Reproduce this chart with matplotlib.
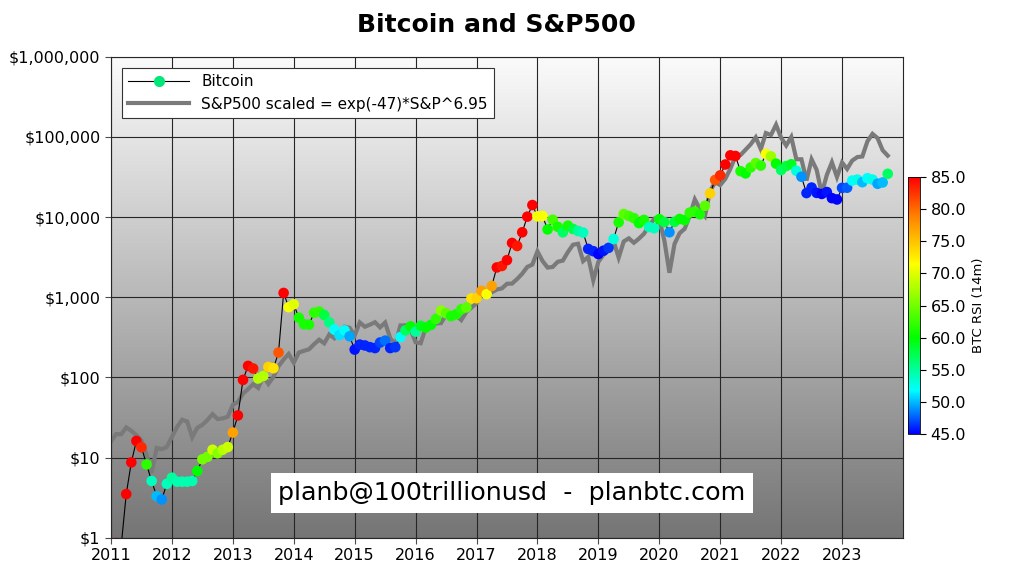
import numpy as np
import matplotlib
matplotlib.use("Agg")
import matplotlib.pyplot as plt
from matplotlib.colors import LinearSegmentedColormap, Normalize
from matplotlib.ticker import FixedLocator, FuncFormatter, NullLocator
from matplotlib.lines import Line2D

plt.rcParams["font.family"] = ["DejaVu Sans"]

start_year = 2011  # first monthly sample = Jan 2011

btc_price = [
    0.52, 0.86, 0.78, 3.5, 8.7, 16.1, 13.4, 8.2, 5.1, 3.3, 3.0, 4.7,            # 2011
    5.6, 5.0, 5.0, 5.0, 5.1, 6.8, 9.5, 10.2, 12.5, 11.3, 12.5, 13.5,            # 2012
    20.5, 33.5, 93, 139, 129, 97, 104, 135, 130, 204, 1130, 750,                # 2013
    815, 555, 460, 455, 640, 660, 600, 485, 395, 337, 385, 325,                 # 2014
    222, 256, 250, 238, 232, 272, 287, 232, 238, 318, 385, 432,                 # 2015
    372, 438, 418, 450, 535, 680, 630, 580, 612, 705, 745, 965,                 # 2016
    970, 1200, 1090, 1380, 2350, 2450, 2900, 4750, 4350, 6450, 10100, 14100,    # 2017
    10200, 10300, 7000, 9250, 7550, 6450, 7800, 7100, 6700, 6400, 4000, 3750,   # 2018
    3450, 3800, 4120, 5320, 8600, 10900, 10300, 9700, 8400, 9200, 7500, 7250,   # 2019
    9400, 8650, 6450, 8700, 9450, 9150, 11350, 11700, 10800, 13800, 19700, 29000,   # 2020
    33100, 45200, 58800, 57700, 37300, 35000, 41500, 47100, 43800, 61300, 57000, 46300,  # 2021
    38500, 43200, 45500, 37700, 31800, 19900, 23300, 20000, 19400, 20500, 17200, 16550,  # 2022
    23100, 23200, 28500, 29300, 27200, 30500, 29300, 26000, 27000, 34600,      # 2023
]

btc_rsi = [
    85, 85, 85, 85, 85, 85, 83, 62, 54, 50, 49, 54,
    55, 54.5, 54.5, 54.5, 54.5, 60, 65, 65, 69, 66, 68, 69,
    77, 85, 85, 85, 84, 68, 68, 74, 73, 81, 85, 71,
    70, 61, 61, 61, 62, 62, 58, 56, 52, 51, 52, 49.5,
    45.5, 46, 46, 46, 46, 47, 48, 46, 46.5, 52, 57, 60,
    55, 59, 60, 60, 62, 66, 64, 61, 61, 62, 64, 73,
    74, 77, 71, 77, 85, 84, 85, 85, 84, 85, 85, 85,
    71, 71, 60, 63, 61, 57, 61, 58, 55, 54, 46, 46,
    45, 45.5, 46.5, 53, 61, 64, 63, 62, 60, 61, 54, 54,
    60, 58, 49, 58, 60, 60, 62, 62, 61, 64, 74, 81,
    83, 85, 85, 85, 61, 60, 62, 64, 62, 71, 67, 60,
    57, 58, 59, 53, 49, 46, 46, 45.5, 45, 45.5, 45, 45,
    47, 47.5, 52, 52.5, 50, 52, 52.5, 49.5, 50, 57,
]

sp500 = [
    1286, 1327, 1326, 1364, 1345, 1321, 1292, 1219, 1131, 1253, 1247, 1258,
    1312, 1366, 1408, 1398, 1310, 1362, 1379, 1407, 1441, 1412, 1416, 1426,
    1498, 1515, 1569, 1598, 1631, 1606, 1686, 1633, 1682, 1757, 1806, 1848,
    1783, 1859, 1872, 1884, 1924, 1960, 1931, 2003, 1972, 2018, 2068, 2059,
    1995, 2105, 2068, 2086, 2107, 2063, 2104, 1972, 1920, 2079, 2080, 2044,
    1940, 1932, 2060, 2065, 2097, 2099, 2174, 2171, 2168, 2126, 2199, 2239,
    2279, 2364, 2363, 2384, 2412, 2423, 2470, 2472, 2519, 2575, 2648, 2674,
    2824, 2714, 2641, 2648, 2705, 2718, 2816, 2902, 2914, 2712, 2760, 2507,
    2704, 2784, 2834, 2946, 2752, 2942, 2980, 2926, 2977, 3038, 3141, 3231,
    3226, 2954, 2585, 2912, 3044, 3100, 3271, 3500, 3363, 3270, 3622, 3756,
    3714, 3811, 3973, 4181, 4204, 4298, 4395, 4523, 4308, 4605, 4567, 4766,
    4516, 4374, 4530, 4132, 4132, 3785, 4130, 3955, 3586, 3872, 4080, 3840,
    4077, 3970, 4109, 4169, 4180, 4450, 4589, 4508, 4288, 4194,
]

year_ticks = list(range(2011, 2024))
price_ticks = [1, 10, 100, 1000, 10000, 100000, 1000000]
rsi_ticks = [45, 50, 55, 60, 65, 70, 75, 80, 85]

t = start_year + np.arange(len(btc_price)) / 12.0
sp_scaled = np.exp(-47) * np.asarray(sp500, dtype=float) ** 6.95

rsi_cmap = LinearSegmentedColormap.from_list(
    "rsi", [(0.0, "#0000ff"), (0.17, "#00ffff"), (0.375, "#00ff00"),
            (0.66, "#ffff00"), (0.85, "#ff8000"), (1.0, "#ff0000")])
norm = Normalize(vmin=45, vmax=85)

fig = plt.figure(figsize=(10.24, 5.76), dpi=100)
rect = [0.1084, 0.0665, 0.7734, 0.8351]

# gradient background
bg = fig.add_axes(rect, zorder=0)
grad = LinearSegmentedColormap.from_list("bg", ["#757575", "#fbfbfb"])
bg.imshow(np.linspace(0, 1, 256).reshape(-1, 1), cmap=grad, aspect="auto",
          extent=[0, 1, 0, 1], origin="lower")
bg.set_axis_off()

ax = fig.add_axes(rect, zorder=1)
ax.set_facecolor("none")
ax.set_yscale("log")

ax.plot(t, sp_scaled, color="#7a7a7a", lw=3.0, zorder=2, solid_joinstyle="miter")
ax.plot(t, btc_price, color="black", lw=0.8, zorder=3)
sc = ax.scatter(t, btc_price, c=btc_rsi, cmap=rsi_cmap, norm=norm, s=58,
                edgecolors="none", zorder=4)

ax.set_xlim(2011, 2024)
ax.set_ylim(1, 1e6)
ax.xaxis.set_major_locator(FixedLocator(year_ticks))
ax.xaxis.set_minor_locator(NullLocator())
ax.yaxis.set_major_locator(FixedLocator(price_ticks))
ax.yaxis.set_minor_locator(NullLocator())
ax.yaxis.set_major_formatter(FuncFormatter(lambda v, p: "${:,.0f}".format(v)))
ax.set_xticklabels([str(y) for y in year_ticks])
ax.tick_params(labelsize=11.5, length=4, color="0.3")
ax.grid(True, color="0.15", lw=0.8, zorder=1)
ax.set_axisbelow(True)
for s in ax.spines.values():
    s.set_color("0.15")
    s.set_linewidth(0.8)

handles = [
    Line2D([0], [0], color="black", lw=0.8, marker="o", markersize=8,
           markerfacecolor="#00e878", markeredgecolor="none"),
    Line2D([0], [0], color="#7a7a7a", lw=3.0),
]
leg = ax.legend(handles, ["Bitcoin", "S&P500 scaled = exp(-47)*S&P^6.95"],
                loc="upper left", bbox_to_anchor=(0.0139, 0.9765),
                borderaxespad=0, fontsize=11, handlelength=4.0,
                fancybox=False, framealpha=1, edgecolor="0.2")
leg.get_frame().set_linewidth(0.8)

fig.text(0.485, 0.956, "Bitcoin and S&P500", ha="center", va="center",
         fontsize=18, fontweight="bold")

fig.text(0.5, 1 - 493 / 576, "planb@100trillionusd  -  planbtc.com",
         ha="center", va="center", fontsize=18.3, zorder=10,
         bbox=dict(facecolor="white", edgecolor="none", boxstyle="square,pad=0.3"))

cax = fig.add_axes([0.8867, 0.2465, 0.0117, 0.446])
cb = fig.colorbar(sc, cax=cax, ticks=rsi_ticks)
cb.ax.yaxis.set_major_formatter(FuncFormatter(lambda v, p: "%.1f" % v))
cb.ax.tick_params(labelsize=11.5, length=4)
cb.set_label("BTC RSI (14m)", fontsize=9.5)
cb.outline.set_linewidth(0.6)

fig.savefig("out.png", dpi=100)
